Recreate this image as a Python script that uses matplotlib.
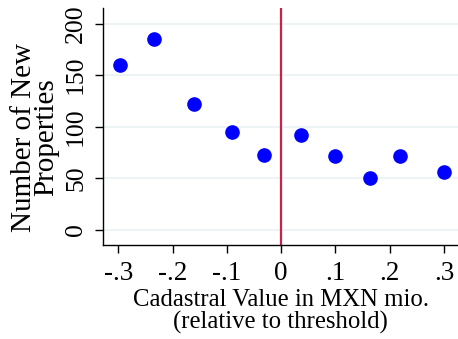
import matplotlib.pyplot as plt

plt.rcParams['font.family'] = ['Liberation Serif', 'DejaVu Serif']

# binned cadastral value (relative to threshold) and number of new properties
bin_x = [-0.296, -0.235, -0.160, -0.090, -0.031, 0.036, 0.099, 0.163, 0.219, 0.300]
new_props = [160, 185, 122, 95, 72, 92, 71, 50, 71, 56]

x_ticks = [-0.3, -0.2, -0.1, 0, 0.1, 0.2, 0.3]
x_tick_labels = ['-.3', '-.2', '-.1', '0', '.1', '.2', '.3']
y_ticks = [0, 50, 100, 150, 200]


def main():
    fig = plt.figure(figsize=(4.58, 3.39), dpi=100)
    ax = fig.add_axes([0.225, 0.277, 0.775, 0.699])

    for yt in y_ticks:
        ax.axhline(yt, color='#eaf2f3', lw=1.2, zorder=0)
    ax.axvline(0, color='#cc1f4a', lw=1.6, zorder=1)
    ax.plot(bin_x, new_props, 'o', color='#0000ff', ms=9.5, zorder=3)

    ax.set_xlim(-0.328, 0.326)
    ax.set_ylim(-15, 215)
    ax.set_xticks(x_ticks)
    ax.set_xticklabels(x_tick_labels)
    ax.set_yticks(y_ticks)
    ax.set_yticklabels([str(v) for v in y_ticks], rotation=90, va='center')

    for side in ['top', 'right']:
        ax.spines[side].set_visible(False)
    for side in ['left', 'bottom']:
        ax.spines[side].set_linewidth(1.0)
    ax.tick_params(length=5.5, width=1.0)
    ax.tick_params(axis='x', labelsize=19.5, pad=6)
    ax.tick_params(axis='y', labelsize=18.5, pad=6)

    ax.set_xlabel('Cadastral Value in MXN mio.\n(relative to threshold)',
                  fontsize=17.8, linespacing=1.0, labelpad=2)
    ax.set_ylabel('Number of New\nProperties', fontsize=21, linespacing=0.82)
    ax.yaxis.set_label_coords(-0.123, 0.455)

    fig.savefig('out.png', dpi=100)


main()
